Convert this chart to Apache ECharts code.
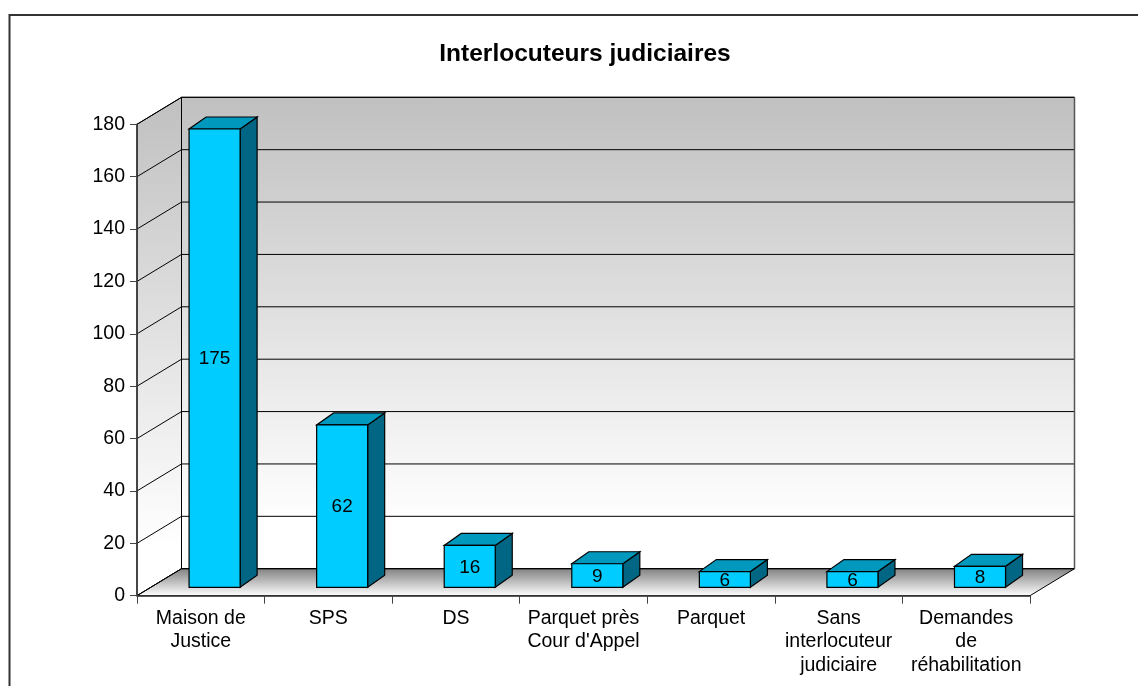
<!DOCTYPE html>
<html><head><meta charset="utf-8">
<style>html,body{margin:0;padding:0;background:#fff}#c{width:1138px;height:686px}</style>
<script src="https://cdn.jsdelivr.net/npm/echarts@6/dist/echarts.min.js"></script>
</head><body><div id="c"></div>
<script>
const categories = ["Maison de\nJustice","SPS","DS","Parquet près\nCour d'Appel","Parquet","Sans\ninterlocuteur\njudiciaire","Demandes\nde\nréhabilitation"];
const values = [175,62,16,9,6,6,8];
const gridTicks = [0,20,40,60,80,100,120,140,160,180];
const title = "Interlocuteurs judiciaires";

const WALL_DX = 44.5, WALL_DY = -27;
const BAR_SHIFT_X = 13.8, BAR_SHIFT_Y = -8.4, BAR_DX = 17, BAR_DY = -12;
const FONT = '"Liberation Sans", Arial, sans-serif';

function renderWalls(params, api){
  const cs = params.coordSys;
  const L = cs.x, R = cs.x+cs.width, T = cs.y, B = cs.y+cs.height;
  const bx = L+WALL_DX, bxr = R+WALL_DX, off = WALL_DY;
  const line = {stroke:'#000',lineWidth:1};
  const wall = ()=>new echarts.graphic.LinearGradient(0,0,0,1,[{offset:0,color:'#c0c0c0'},{offset:0.9,color:'#ffffff'},{offset:1,color:'#ffffff'}]);
  const children = [
    {type:'polygon',shape:{points:[[bx,T+off],[bxr,T+off],[bxr,B+off],[bx,B+off]]},style:{fill:wall(),stroke:'#000',lineWidth:1}},
    {type:'polygon',shape:{points:[[L,T],[bx,T+off],[bx,B+off],[L,B]]},style:{fill:wall(),stroke:'#000',lineWidth:1}},
    {type:'polygon',shape:{points:[[L,B],[bx,B+off],[bxr,B+off],[R,B]]},
      style:{fill:new echarts.graphic.LinearGradient(0,0,0,1,[{offset:0,color:'#808080'},{offset:1,color:'#ffffff'}]),stroke:'#000',lineWidth:1}}
  ];
  gridTicks.forEach(v=>{
    const y = api.coord([0,v])[1];
    children.push({type:'polyline',shape:{points:[[L,y],[bx,y+off],[bxr,y+off]]},style:{fill:null,...line}});
  });
  children.push({type:'line',shape:{x1:bxr,y1:T+off,x2:bxr,y2:B+off},style:{stroke:'#555',lineWidth:1.5}});
  return {type:'group',children};
}

function renderBar(params, api){
  const i = api.value(0), v = api.value(1);
  const base = api.coord([i,0]), top = api.coord([i,v]);
  const w = api.size([1,0])[0]*0.4;
  const x0 = base[0]+BAR_SHIFT_X-w/2, x1 = x0+w;
  const y0 = base[1]+BAR_SHIFT_Y, y1 = top[1]+BAR_SHIFT_Y;
  const s = {stroke:'#000',lineWidth:1.2};
  return {type:'group',children:[
    {type:'polygon',shape:{points:[[x1,y0],[x1+BAR_DX,y0+BAR_DY],[x1+BAR_DX,y1+BAR_DY],[x1,y1]]},style:{fill:'#006684',...s}},
    {type:'polygon',shape:{points:[[x0,y1],[x1,y1],[x1+BAR_DX,y1+BAR_DY],[x0+BAR_DX,y1+BAR_DY]]},style:{fill:'#0099bd',...s}},
    {type:'rect',shape:{x:x0,y:y1,width:w,height:y0-y1},style:{fill:'#00ccff',...s}},
    {type:'text',style:{text:String(v),x:(x0+x1)/2,y:(y0+y1)/2+1,align:'center',verticalAlign:'middle',fill:'#000',font:'19px '+FONT}}
  ]};
}

const chart = echarts.init(document.getElementById('c'),null,{renderer:'canvas'});
chart.setOption({
  animation:false,
  backgroundColor:'#fff',
  title:{text:title,left:580,top:37,textAlign:'center',textStyle:{fontFamily:FONT,fontWeight:'bold',fontSize:24.5,color:'#000'}},
  grid:{left:137,top:124.3,width:893,height:471.4},
  xAxis:{type:'category',data:categories,z:5,
    axisLine:{lineStyle:{color:'#333',width:1.5}},
    axisTick:{show:true,alignWithLabel:false,length:8,lineStyle:{color:'#444'}},
    axisLabel:{interval:0,margin:11,color:'#000',fontFamily:FONT,fontSize:19.5,lineHeight:23.5,verticalAlign:'top'},
    splitLine:{show:false}},
  yAxis:{type:'value',min:0,max:180,interval:20,z:5,
    axisLine:{show:true,lineStyle:{color:'#333',width:1.5}},
    axisTick:{show:true,length:7,lineStyle:{color:'#444'}},
    axisLabel:{margin:12,color:'#000',fontFamily:FONT,fontSize:19.5},
    splitLine:{show:false}},
  graphic:[{type:'polyline',silent:true,z:-1,shape:{points:[[9.5,686],[9.5,15],[1138,15]]},style:{fill:null,stroke:'#333',lineWidth:2}}],
  series:[
    {type:'custom',z:1,silent:true,clip:false,renderItem:renderWalls,data:[[0,0]],encode:{x:0,y:1}},
    {type:'custom',z:3,clip:false,renderItem:renderBar,data:values.map((v,i)=>[i,v]),encode:{x:0,y:1}}
  ]
});
</script></body></html>
